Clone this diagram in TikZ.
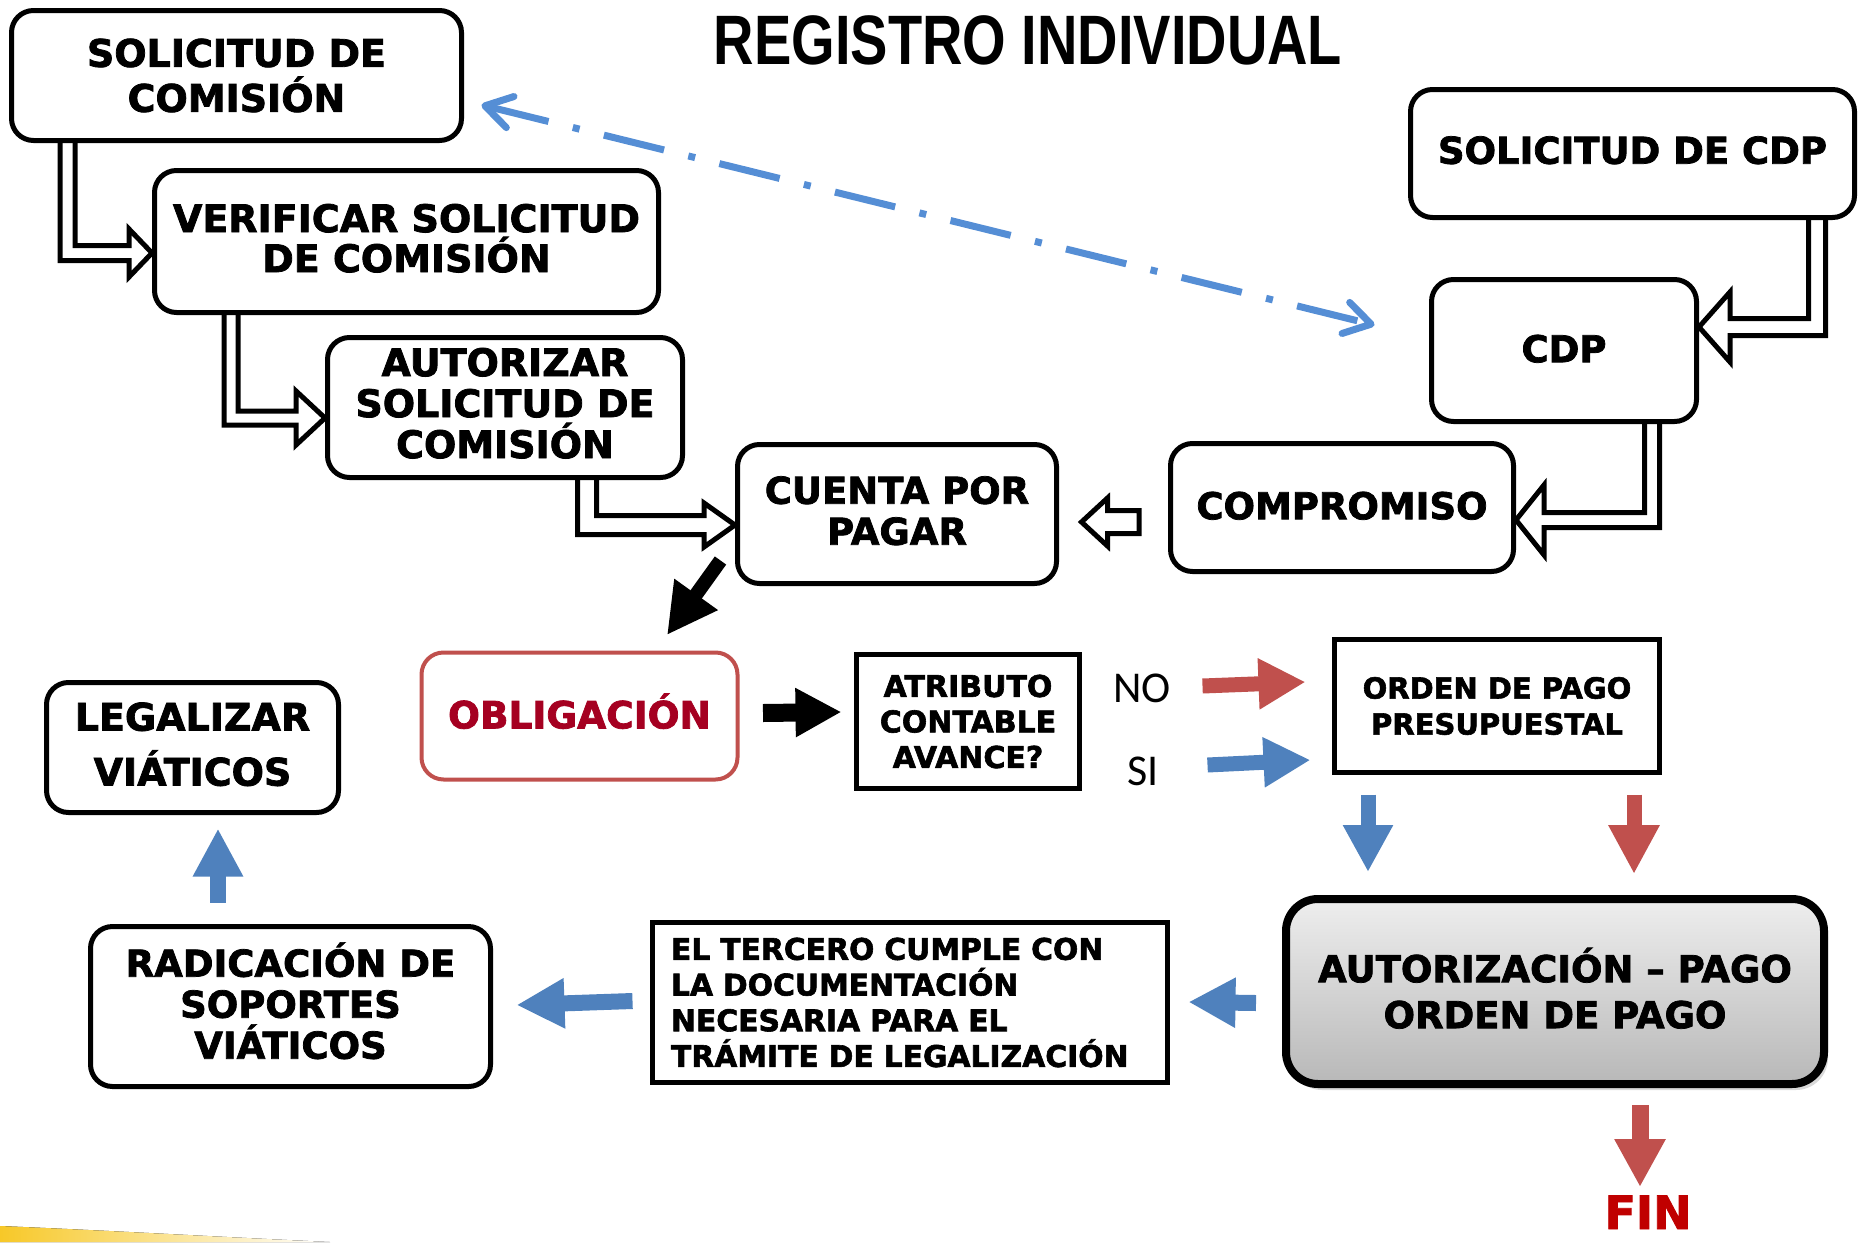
\documentclass[tikz,border=0pt]{standalone}
\usepackage{fontspec}
\usetikzlibrary{arrows.meta,calc,shadows}
\newfontfamily\bx{DejaVu Sans}[BoldFeatures={FakeBold=2}]
\newfontfamily\tf{Liberation Sans}[FakeStretch=0.8]
\newfontfamily\cf{Carlito}
\newcommand\setfs[2]{\fontsize{#1}{#2}\selectfont}
\newcommand\dn[1]{\rule[-#1pt]{0pt}{#1pt}}
\definecolor{ared}{RGB}{192,80,77}
\definecolor{ablue}{RGB}{79,129,189}
\definecolor{dblue}{RGB}{85,142,213}
\definecolor{oblred}{RGB}{165,0,33}
\definecolor{finred}{RGB}{192,0,0}
\definecolor{gold}{RGB}{247,200,40}
\definecolor{gtop}{RGB}{238,238,238}
\definecolor{gbot}{RGB}{184,184,184}
\pgfdeclarelayer{bg}\pgfdeclarelayer{arr}\pgfsetlayers{bg,arr,main}
% elbow outline arrow: down then right
\newcommand\elbowR[7]{%
 \draw[outl] let \p1=($(#1.south)+(#2,0)$), \p2=($(#3.west)+(0,#4)$) in
 (\x1-#5pt,\y1) -- (\x1-#5pt,\y2-#5pt) -- (\x2-#6pt,\y2-#5pt) -- (\x2-#6pt,\y2-#7pt)
 -- (\x2,\y2) -- (\x2-#6pt,\y2+#7pt) -- (\x2-#6pt,\y2+#5pt) -- (\x1+#5pt,\y2+#5pt) -- (\x1+#5pt,\y1);}
% elbow outline arrow: down then left
\newcommand\elbowL[7]{%
 \draw[outl] let \p1=($(#1.south)+(#2,0)$), \p2=($(#3.east)+(0,#4)$) in
 (\x1+#5pt,\y1) -- (\x1+#5pt,\y2-#5pt) -- (\x2+#6pt,\y2-#5pt) -- (\x2+#6pt,\y2-#7pt)
 -- (\x2,\y2) -- (\x2+#6pt,\y2+#7pt) -- (\x2+#6pt,\y2+#5pt) -- (\x1-#5pt,\y2+#5pt) -- (\x1-#5pt,\y1);}
\begin{document}
\begin{tikzpicture}[x=1pt,y=-1pt,
 rbox/.style={draw=black,line width=5pt,rounded corners=22pt,fill=white,align=center,inner sep=0pt},
 sbox/.style={draw=black,line width=5pt,fill=white,align=center,inner sep=0pt},
 outl/.style={draw=black,line width=5pt,fill=white,line join=miter},
 blockarrow/.style n args={3}{line width=#1pt,-{Triangle[length=#2pt 0 0,width=#3pt 0 0]}}
]
\useasboundingbox (0,0) rectangle (1860,1242);

% yellow swoosh
\begin{pgfonlayer}{bg}
\fill[left color=gold, middle color=gold, right color=white] (0,1226) .. controls (120,1231) and (220,1237) .. (330,1242) -- (0,1242) -- cycle;
\end{pgfonlayer}

% title
\node[font={\tf\bfseries\setfs{70}{70}}, inner sep=0pt] (title) at (1028,40) {REGISTRO INDIVIDUAL};

% boxes
\node[rbox, minimum width=450pt, minimum height=130pt, font={\bx\bfseries\setfs{38}{45}}] (b1) at (236.5,75.5) {SOLICITUD DE\\COMISIÓN};
\node[rbox, minimum width=504pt, minimum height=142pt, font={\bx\bfseries\setfs{38}{40}}] (b2) at (406.5,241.5) {VERIFICAR SOLICITUD\\DE COMISIÓN\dn{7}};
\node[rbox, minimum width=355pt, minimum height=140pt, font={\bx\bfseries\setfs{38}{41}}] (b3) at (505,407.5) {AUTORIZAR\\SOLICITUD DE\\COMISIÓN\dn{9}};
\node[rbox, minimum width=319pt, minimum height=139pt, font={\bx\bfseries\setfs{37}{41}}] (b4) at (897,514) {CUENTA POR\\PAGAR\dn{7}};
\node[rbox, minimum width=444pt, minimum height=128pt, font={\bx\bfseries\setfs{37}{41}}] (b5) at (1632.5,153.5) {SOLICITUD DE CDP\dn{7}};
\node[rbox, minimum width=265pt, minimum height=142pt, font={\bx\bfseries\setfs{37}{41}}] (b6) at (1564,350.5) {CDP\dn{4}};
\node[rbox, minimum width=343pt, minimum height=128pt, font={\bx\bfseries\setfs{37}{41}}] (b7) at (1342,507.5) {COMPROMISO\dn{4}};
\node[rbox, draw=ared, line width=4pt, minimum width=316pt, minimum height=127pt, text=oblred, font={\bx\bfseries\setfs{37.5}{41}}] (b8) at (579.5,716) {OBLIGACIÓN\dn{10}};
\node[sbox, minimum width=223pt, minimum height=134pt, font={\bx\bfseries\setfs{30}{35.5}}] (b9) at (968,721.5) {ATRIBUTO\\CONTABLE\\AVANCE?};
\node[sbox, minimum width=325pt, minimum height=133pt, font={\bx\bfseries\setfs{29}{36}}] (b10) at (1497,706) {ORDEN DE PAGO\\PRESUPUESTAL};
\node[rbox, line width=8pt, rounded corners=32pt, minimum width=538pt, minimum height=185pt,
      top color=gtop, bottom color=gbot,
      drop shadow={shadow xshift=4pt, shadow yshift=-6pt, opacity=0.3},
      font={\bx\bfseries\setfs{37}{46}}] (b11) at (1555,991.5) {AUTORIZACIÓN – PAGO\\ORDEN DE PAGO\dn{7}};
\node[sbox, align=left, inner xsep=18.5pt, text width=478pt, minimum height=160pt, font={\bx\bfseries\setfs{29.8}{35.7}}] (b12) at (910,1002.5) {EL TERCERO CUMPLE CON\\LA DOCUMENTACIÓN\\NECESARIA PARA EL\\TRÁMITE DE LEGALIZACIÓN};
\node[rbox, minimum width=400pt, minimum height=160pt, font={\bx\bfseries\setfs{37}{41}}] (b13) at (290.5,1006.5) {RADICACIÓN DE\\SOPORTES\\VIÁTICOS\dn{12}};
\node[rbox, minimum width=292pt, minimum height=130pt, font={\bx\bfseries\setfs{38}{55}}] (b14) at (192.5,747.5) {LEGALIZAR\\VIÁTICOS\dn{7}};

% labels
\node[font={\cf\setfs{44}{44}}, inner sep=0pt] (no) at (1142,688) {NO};
\node[font={\cf\setfs{44}{44}}, inner sep=0pt] (si) at (1143,771.5) {SI};
\node[font={\bx\bfseries\setfs{46}{46}}, text=finred, inner sep=0pt, anchor=base] (fin) at (1648,1229) {FIN};

% outline elbow arrows
\begin{pgfonlayer}{arr}
\elbowR{b1}{-169}{b2}{11.5}{7.5}{23}{24}
\elbowR{b2}{-175.5}{b3}{10.5}{7}{29}{27}
\elbowR{b3}{82}{b4}{11}{9.5}{31}{22}
\elbowL{b5}{184.5}{b6}{-23.5}{8.5}{31}{35}
\elbowL{b6}{88}{b7}{12.5}{7.5}{28}{35}
\draw[outl] let \p1=($(b7.west)+(-29,14.5)$), \p2=($(b4.east)+(22.5,8)$) in
 (\x1,\y1+11.5pt) -- (\x2+26pt,\y1+11.5pt) -- (\x2+26pt,\y1+24pt) -- (\x2,\y1)
 -- (\x2+26pt,\y1-24pt) -- (\x2+26pt,\y1-11.5pt) -- (\x1,\y1-11.5pt) -- cycle;
\end{pgfonlayer}

% dash-dot double arrow
\draw[dblue, line width=7pt, dash pattern=on 62pt off 25pt on 7pt off 25pt,
      {Straight Barb[length=26pt 0 0,width=32pt 0 0,round]}-{Straight Barb[length=26pt 0 0,width=32pt 0 0,round]}]
  ($(b1.east)+(17.5,29.5)$) -- ($(b6.west)+(-54.5,-25.5)$);

% block arrows
\draw[black, blockarrow={14}{50}{50}] ($(b4.south west)+(-14.5,-25.5)$) -- ($(b8.north)+(87.5,-15.5)$);
\draw[black, blockarrow={18}{46}{46}] ($(b8.east)+(23.5,-3)$) -- ($(b9.west)+(-12.5,-9.5)$);
\draw[ared, blockarrow={15}{47}{48}] ($(b9.east)+(120.5,-35.5)$) -- ($(b10.west)+(-26.5,-24)$);
\draw[ablue, blockarrow={15}{47}{47}] ($(b9.east)+(125.5,43.5)$) -- ($(b10.west)+(-21.5,54)$);
\draw[ablue, blockarrow={15}{47}{47}] ($(b10.south)+(-129,19.5)$) -- ($(b11.north)+(-187,-23)$);
\draw[ared, blockarrow={15}{49}{48}] ($(b10.south)+(137,19.5)$) -- ($(b11.north)+(79,-21)$);
\draw[ared, blockarrow={17}{48}{48}] ($(b11.south)+(85,17)$) -- ($(b11.south)+(85,99)$);
\draw[ablue, blockarrow={16}{47}{47}] ($(b11.west)+(-26,11.5)$) -- ($(b12.east)+(18.5,-0.5)$);
\draw[ablue, blockarrow={16}{48}{47}] ($(b12.west)+(-17.5,-1.5)$) -- ($(b13.east)+(23.5,-1.5)$);
\draw[ablue, blockarrow={16}{48}{47}] ($(b13.north)+(-72.5,-21.5)$) -- ($(b14.south)+(25.5,13.5)$);
\end{tikzpicture}
\end{document}
